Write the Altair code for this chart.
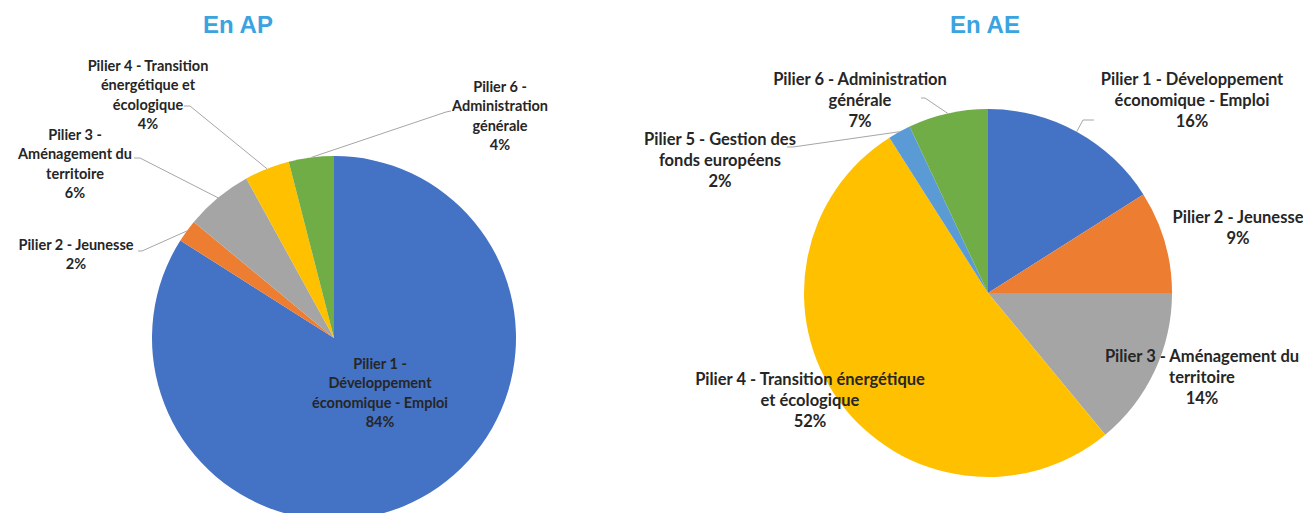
import math
import altair as alt
import pandas as pd

# ---------------- data ----------------
piliers = [
    "Pilier 1 - Développement économique - Emploi",
    "Pilier 2 - Jeunesse",
    "Pilier 3 - Aménagement du territoire",
    "Pilier 4 - Transition énergétique et écologique",
    "Pilier 5 - Gestion des fonds européens",
    "Pilier 6 - Administration générale",
]
colors = ["#4472C4", "#ED7D31", "#A5A5A5", "#FFC000", "#5B9BD5", "#70AD47"]

ap_piliers = [0, 1, 2, 3, 5]          # indices into piliers
ap_values = [84, 2, 6, 4, 4]          # %

ae_piliers = [0, 1, 2, 3, 4, 5]
ae_values = [16, 9, 14, 52, 2, 7]     # %

titles = ["En AP", "En AE"]

# ---------------- layout (image pixel coordinates) ----------------
OFF = 8  # page margin
W, H = 1295, 505
FONT = "Lato"

# label: (center x, first line center y, wrapped name lines, leader start points)
panels = [
    dict(title=titles[0], tx=238, ty=26, cx=334, cy=338, r=182, fs=14.5, lh=19.3,
         piliers=ap_piliers, values=ap_values,
         labels={
             0: (380, 365, ["Pilier 1 -", "Développement", "économique - Emploi"], []),
             1: (76, 246, ["Pilier 2 - Jeunesse"], [(138, 251), (142, 251)]),
             2: (75, 136, ["Pilier 3 -", "Aménagement du", "territoire"], [(134, 158), (140, 158)]),
             3: (148, 67, ["Pilier 4 - Transition", "énergétique et", "écologique"], [(184, 106), (190, 106)]),
             5: (500, 88, ["Pilier 6 -", "Administration", "générale"], [(451, 111), (446, 112)]),
         }),
    dict(title=titles[1], tx=985, ty=26, cx=988, cy=293, r=184, fs=16.5, lh=21,
         piliers=ae_piliers, values=ae_values,
         labels={
             0: (1192, 80, ["Pilier 1 - Développement", "économique - Emploi"], [(1094, 120), (1083, 120)]),
             1: (1238, 218, ["Pilier 2 - Jeunesse"], []),
             2: (1202, 357, ["Pilier 3 - Aménagement du", "territoire"], []),
             3: (810, 380, ["Pilier 4 - Transition énergétique", "et écologique"], []),
             4: (720, 140, ["Pilier 5 - Gestion des", "fonds européens"], [(787, 147), (793, 147)]),
             5: (860, 80, ["Pilier 6 - Administration", "générale"], [(921, 98), (925, 98)]),
         }),
]

color_scale = alt.Scale(domain=piliers, range=colors)
layers = []

for p in panels:
    rows = [dict(pilier=piliers[i], value=v, ordre=k) for k, (i, v) in enumerate(zip(p["piliers"], p["values"]))]
    df = pd.DataFrame(rows)

    pie = alt.Chart(df).mark_arc(outerRadius=p["r"], stroke=None).encode(
        theta=alt.Theta("value:Q", stack=True),
        color=alt.Color("pilier:N", scale=color_scale, legend=None),
        order=alt.Order("ordre:Q"),
        x=alt.value(p["cx"] - OFF),
        y=alt.value(p["cy"] - OFF),
    )
    layers.append(pie)

    # labels and leader lines
    total = sum(p["values"])
    cum = 0.0
    lab_rows, line_rows = [], []
    for i, v in zip(p["piliers"], p["values"]):
        mid = (cum + v / 2) / total * 2 * math.pi
        cum += v
        lx, ly, lines, lead = p["labels"][i]
        lab_rows.append(dict(x=lx - OFF, y=ly - OFF, txt="\n".join(lines + [f"{v}%"])))
        if lead:
            ex = p["cx"] + p["r"] * math.sin(mid)
            ey = p["cy"] - p["r"] * math.cos(mid)
            pts = lead + [(ex, ey)]
            for s, (px, py) in enumerate(pts):
                line_rows.append(dict(key=piliers[i], seq=s, x=px - OFF, y=py - OFF))

    if line_rows:
        leaders = alt.Chart(pd.DataFrame(line_rows)).mark_line(color="#A6A6A6", strokeWidth=1).encode(
            x=alt.X("x:Q", scale=None, axis=None),
            y=alt.Y("y:Q", scale=None, axis=None),
            detail="key:N",
            order="seq:Q",
        )
        layers.append(leaders)

    labels = alt.Chart(pd.DataFrame(lab_rows)).mark_text(
        font=FONT, fontSize=p["fs"], fontWeight="bold", color="#262626",
        lineBreak="\n", lineHeight=p["lh"], align="center", baseline="middle",
    ).encode(
        x=alt.X("x:Q", scale=None, axis=None),
        y=alt.Y("y:Q", scale=None, axis=None),
        text="txt:N",
    )
    layers.append(labels)

    title = alt.Chart(pd.DataFrame([dict(t=p["title"])])).mark_text(
        font="Liberation Sans", fontSize=24, fontWeight="bold", color="#3BA3DF",
        align="center", baseline="middle",
    ).encode(
        x=alt.value(p["tx"] - OFF),
        y=alt.value(p["ty"] - OFF),
        text="t:N",
    )
    layers.append(title)

chart = alt.layer(*layers).resolve_scale(theta="independent").properties(
    width=W, height=H, autosize="none", padding=0,
).configure_view(stroke=None)

chart.save("out.html", embed_options={"renderer": "svg", "actions": False})
